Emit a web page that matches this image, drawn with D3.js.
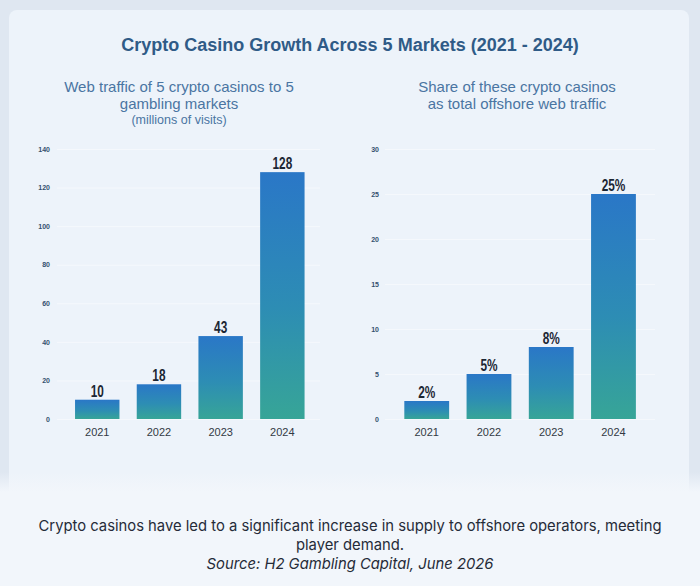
<!DOCTYPE html>
<html>
<head>
<meta charset="utf-8">
<script src="https://cdn.jsdelivr.net/npm/d3@7"></script>
<style>
  html, body { margin: 0; padding: 0; background: #dfe7f1; }
  svg { display: block; }
</style>
</head>
<body>
<svg width="700" height="586"></svg>
<script>
// Data
const years = ["2021", "2022", "2023", "2024"];
const trafficValues = [10, 18, 43, 128];
const shareValues = [2, 5, 8, 25];
const trafficTicks = [0, 20, 40, 60, 80, 100, 120, 140];
const shareTicks = [0, 5, 10, 15, 20, 25, 30];

const svg = d3.select("svg"),
  width = +svg.attr("width"),
  height = +svg.attr("height");

// gradient for the bars
const defs = svg.append("defs");
const grad = defs.append("linearGradient")
  .attr("id", "barGrad")
  .attr("x1", 0).attr("y1", 0).attr("x2", 0).attr("y2", 1);
grad.append("stop").attr("offset", "0%").attr("stop-color", "#2a77c7");
grad.append("stop").attr("offset", "55%").attr("stop-color", "#2d8db4");
grad.append("stop").attr("offset", "100%").attr("stop-color", "#37a597");

// footer fades in softly
const fade = defs.append("linearGradient")
  .attr("id", "footGrad")
  .attr("x1", 0).attr("y1", 0).attr("x2", 0).attr("y2", 1);
fade.append("stop").attr("offset", "0%").attr("stop-color", "#f2f6fb").attr("stop-opacity", 0);
fade.append("stop").attr("offset", "100%").attr("stop-color", "#f2f6fb").attr("stop-opacity", 1);

// card
svg.append("rect")
  .attr("x", 9).attr("y", 10)
  .attr("width", 680).attr("height", 600)
  .attr("rx", 8)
  .attr("fill", "#edf3fa");

// footer area, a bit whiter
svg.append("rect")
  .attr("x", 0).attr("y", 472)
  .attr("width", width).attr("height", 20)
  .attr("fill", "url(#footGrad)");
svg.append("rect")
  .attr("x", 0).attr("y", 492)
  .attr("width", width).attr("height", height - 492)
  .attr("fill", "#f2f6fb");

// Title
svg.append("text")
  .attr("x", 350).attr("y", 51)
  .attr("text-anchor", "middle")
  .style("font-family", "Liberation Sans, Arial, sans-serif")
  .style("font-weight", "bold")
  .style("font-size", "18px")
  .attr("fill", "#2f5b87")
  .text("Crypto Casino Growth Across 5 Markets (2021 - 2024)");

function subtitle(x, lines) {
  const t = svg.append("text")
    .attr("text-anchor", "middle")
    .style("font-family", "Liberation Sans, Arial, sans-serif")
    .attr("fill", "#4a75a2");
  lines.forEach(l => {
    t.append("tspan")
      .attr("x", x).attr("y", l.y)
      .style("font-size", l.size + "px")
      .text(l.text);
  });
}

subtitle(179, [
  { text: "Web traffic of 5 crypto casinos to 5", y: 92, size: 15 },
  { text: "gambling markets", y: 109, size: 15 },
  { text: "(millions of visits)", y: 124, size: 12.5 }
]);
subtitle(517, [
  { text: "Share of these crypto casinos", y: 92, size: 15 },
  { text: "as total offshore web traffic", y: 109, size: 15 }
]);

// one bar chart panel
function drawPanel(cfg) {
  const y = d3.scaleLinear()
    .domain([0, cfg.max])
    .range([419, 149]);

  const x = d3.scaleBand()
    .domain(years)
    .range(cfg.range)
    .paddingInner(0.28)
    .paddingOuter(0.14);

  const g = svg.append("g");

  // faint grid lines
  g.append("g")
    .selectAll("line")
    .data(cfg.ticks)
    .join("line")
    .attr("x1", cfg.gridX[0])
    .attr("x2", cfg.gridX[1])
    .attr("y1", d => y(d) + 0.5)
    .attr("y2", d => y(d) + 0.5)
    .attr("stroke", "#f5f8fc")
    .attr("stroke-width", 1);

  // y axis (labels only)
  const yAxis = g.append("g")
    .attr("transform", `translate(${cfg.axisX},0)`)
    .call(d3.axisLeft(y).tickValues(cfg.ticks).tickSize(0).tickPadding(0));
  yAxis.select(".domain").remove();
  yAxis.selectAll("text")
    .style("font-family", "Liberation Sans, Arial, sans-serif")
    .style("font-weight", "bold")
    .style("font-size", "7px")
    .attr("fill", "#34506f");

  // bars
  g.append("g")
    .selectAll("rect")
    .data(cfg.values)
    .join("rect")
    .attr("x", (d, i) => x(years[i]))
    .attr("y", d => y(d))
    .attr("width", x.bandwidth())
    .attr("height", d => y(0) - y(d))
    .attr("fill", "url(#barGrad)");

  // value labels, narrowed to look condensed
  g.append("g")
    .selectAll("text")
    .data(cfg.values)
    .join("text")
    .attr("transform", (d, i) =>
      `translate(${x(years[i]) + x.bandwidth() / 2},${y(d) - 3}) scale(0.74,1)`)
    .attr("text-anchor", "middle")
    .style("font-family", "Liberation Sans, Arial, sans-serif")
    .style("font-weight", "bold")
    .style("font-size", "16px")
    .attr("fill", "#1c2633")
    .text(d => d + cfg.suffix);

  // x axis
  const xAxis = g.append("g")
    .attr("transform", "translate(0,419)")
    .call(d3.axisBottom(x).tickSize(0).tickPadding(9));
  xAxis.select(".domain").remove();
  xAxis.selectAll("text")
    .style("font-family", "Liberation Sans, Arial, sans-serif")
    .style("font-size", "11px")
    .attr("fill", "#333a44");
}

drawPanel({
  values: trafficValues, max: 140, ticks: trafficTicks,
  range: [66.4, 313.2], axisX: 50, gridX: [57, 320], suffix: ""
});
drawPanel({
  values: shareValues, max: 30, ticks: shareTicks,
  range: [395.6, 644.6], axisX: 379, gridX: [385, 655], suffix: "%"
});

// footer
const foot = svg.append("text")
  .attr("text-anchor", "middle")
  .style("font-family", "Inter, sans-serif")
  .style("font-size", "14.8px")
  .attr("fill", "#252b38");
foot.append("tspan").attr("x", 350).attr("y", 531)
  .text("Crypto casinos have led to a significant increase in supply to offshore operators, meeting");
foot.append("tspan").attr("x", 350).attr("y", 550)
  .text("player demand.");
foot.append("tspan").attr("x", 350).attr("y", 569)
  .style("font-style", "italic")
  .text("Source: H2 Gambling Capital, June 2026");
</script>
</body>
</html>
